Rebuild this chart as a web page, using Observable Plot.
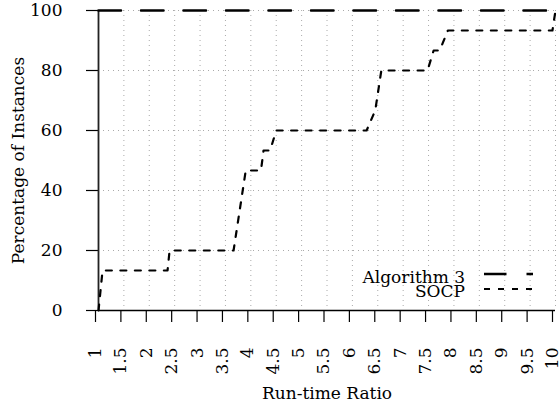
<!DOCTYPE html>
<html>
<head>
<meta charset="utf-8">
<script src="https://cdn.jsdelivr.net/npm/d3@7"></script>
<script src="https://cdn.jsdelivr.net/npm/@observablehq/plot@0.6"></script>
<style>
  html, body { margin: 0; padding: 0; background: #fff; }
  #wrap { position: relative; width: 560px; height: 408px; font-family: "DejaVu Serif", serif; }
  #legend { position: absolute; left: 0; top: 0; width: 560px; height: 408px; pointer-events: none; }
</style>
</head>
<body>
<div id="wrap"></div>
<script>
// Run-time ratio ticks and percentage ticks
const xTicks = [1, 1.5, 2, 2.5, 3, 3.5, 4, 4.5, 5, 5.5, 6, 6.5, 7, 7.5, 8, 8.5, 9, 9.5, 10];
const yTicks = [0, 20, 40, 60, 80, 100];

// Algorithm 3 performance profile
const algRatio = [1, 10];
const algPct = [100, 100];

// SOCP performance profile (points connected by straight segments)
const socpRatio = [1, 1.08, 2.36, 2.4, 3.66, 3.78, 3.9, 4.2, 4.25, 4.38, 4.5, 6.28, 6.45, 6.57, 7.48, 7.6, 7.72, 7.88, 9.94, 10];
const socpPct = [0, 13.33, 13.33, 20, 20, 33.33, 46.67, 46.67, 53.33, 53.33, 60, 60, 66.67, 80, 80, 86.67, 86.67, 93.33, 93.33, 100];

const seriesNames = ["Algorithm 3", "SOCP"];
const xLabel = "Run-time Ratio";
const yLabel = "Percentage of Instances";

const alg = algRatio.map((r, i) => ({ratio: r, pct: algPct[i]}));
const socp = socpRatio.map((r, i) => ({ratio: r, pct: socpPct[i]}));

const chart = Plot.plot({
  width: 560,
  height: 408,
  marginLeft: 98,
  marginRight: 5,
  marginTop: 10,
  marginBottom: 98,
  style: {fontFamily: "DejaVu Serif, serif", fontSize: "17px", color: "#000", background: "#fff"},
  x: {domain: [1, 10]},
  y: {domain: [0, 100]},
  marks: [
    Plot.gridX(xTicks.slice(1), {stroke: "#aaa", strokeOpacity: 1, strokeDasharray: "1,4"}),
    Plot.gridY(yTicks.slice(1), {stroke: "#aaa", strokeOpacity: 1, strokeDasharray: "1,4"}),
    Plot.axisX(xTicks, {
      tickSize: 12, tickRotate: -90, tickPadding: 25, tickFormat: d => String(d),
      stroke: "#000", strokeWidth: 1.2, fontSize: 17, label: null, dx: -3
    }),
    Plot.axisY(yTicks, {
      tickSize: 12, tickPadding: 24, tickFormat: d => String(d),
      stroke: "#000", strokeWidth: 1.2, fontSize: 17, label: null
    }),
    Plot.ruleY([0], {stroke: "#000", strokeWidth: 1.6}),
    Plot.ruleX([1], {stroke: "#222", strokeWidth: 1.8}),
    Plot.line(alg, {x: "ratio", y: "pct", stroke: "#000", strokeWidth: 2.6, strokeDasharray: "22.5,20"}),
    Plot.line(socp, {x: "ratio", y: "pct", stroke: "#000", strokeWidth: 2.2, strokeDasharray: "6,8.5"}),
    Plot.text([xLabel], {frameAnchor: "bottom", dy: 88, lineAnchor: "bottom", textAnchor: "middle", fontSize: 17}),
    Plot.text([yLabel], {frameAnchor: "left", dx: -75, rotate: -90, lineAnchor: "bottom", textAnchor: "middle", fontSize: 17})
  ]
});
document.getElementById("wrap").appendChild(chart);

// Legend (text right-aligned, line samples to the right)
const ns = "http://www.w3.org/2000/svg";
const leg = document.createElementNS(ns, "svg");
leg.setAttribute("id", "legend");
leg.setAttribute("width", 560);
leg.setAttribute("height", 408);
const rows = [
  {name: seriesNames[0], base: 283, ly: 274, dash: "22.5,20", w: 2.6},
  {name: seriesNames[1], base: 297, ly: 289, dash: "6,8", w: 2.2}
];
rows.forEach(r => {
  const t = document.createElementNS(ns, "text");
  t.setAttribute("x", 465);
  t.setAttribute("y", r.base);
  t.setAttribute("text-anchor", "end");
  t.setAttribute("font-family", "DejaVu Serif, serif");
  t.setAttribute("font-size", 17);
  t.textContent = r.name;
  leg.appendChild(t);
  const l = document.createElementNS(ns, "line");
  l.setAttribute("x1", 484); l.setAttribute("x2", 533);
  l.setAttribute("y1", r.ly); l.setAttribute("y2", r.ly);
  l.setAttribute("stroke", "#000");
  l.setAttribute("stroke-width", r.w);
  l.setAttribute("stroke-dasharray", r.dash);
  leg.appendChild(l);
});
document.getElementById("wrap").appendChild(leg);
</script>
</body>
</html>
